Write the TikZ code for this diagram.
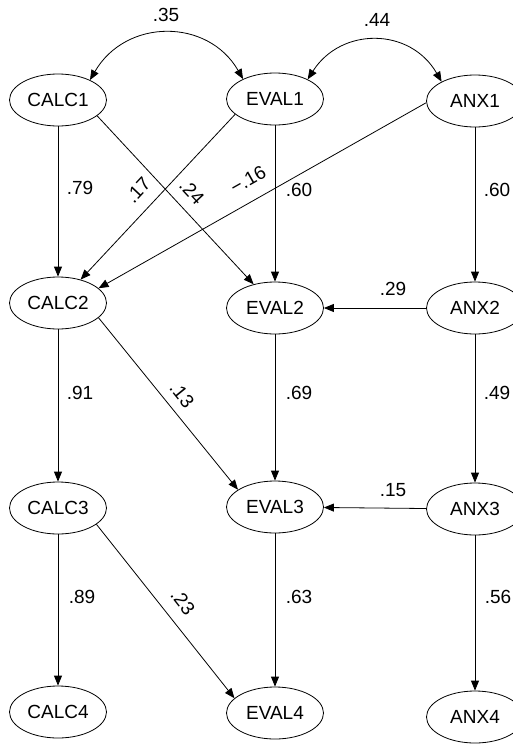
\documentclass[tikz,border=0pt]{standalone}
\usepackage{fontspec}
\setmainfont{Liberation Sans}
\usetikzlibrary{arrows.meta,shapes.geometric}
\begin{document}
\begin{tikzpicture}[x=1pt,y=-1pt,
  var/.style={draw, ellipse, minimum width=97pt, minimum height=52pt, inner sep=0pt, font=\fontsize{19}{22}\selectfont, line width=0.8pt},
  arr/.style={-{Triangle[length=10pt,width=8pt]}, line width=0.8pt},
  cov/.style={{Triangle[length=10pt,width=8pt]}-{Triangle[length=10pt,width=8pt]}, line width=0.8pt},
  lab/.style={font=\fontsize{19}{22}\selectfont, inner sep=0pt}]
\useasboundingbox (0,0) rectangle (513,745);
% nodes
\node[var] (CALC1) at (58,100) {CALC1};
\node[var] (EVAL1) at (275,99) {EVAL1};
\node[var] (ANX1) at (475,101) {ANX1};
\node[var] (CALC2) at (58,303) {CALC2};
\node[var] (EVAL2) at (275,308) {EVAL2};
\node[var] (ANX2) at (475,308) {ANX2};
\node[var] (CALC3) at (58,508) {CALC3};
\node[var] (EVAL3) at (275,507) {EVAL3};
\node[var] (ANX3) at (475,509) {ANX3};
\node[var] (CALC4) at (58,712) {CALC4};
\node[var] (EVAL4) at (275,713) {EVAL4};
\node[var] (ANX4) at (475,717) {ANX4};
% covariances
\draw[cov] (CALC1.32) .. controls (126,18) and (208,18) .. (EVAL1.148);
\draw[cov] (EVAL1.31) .. controls (341,27) and (410,27) .. (ANX1.150);
% paths
\draw[arr] (CALC1) -- (CALC2);
\draw[arr] (CALC1.-22) -- (EVAL2.132);
\draw[arr] (EVAL1.-159) -- (CALC2.46);
\draw[arr] (ANX1.182) -- (CALC2.20);
\draw[arr] (EVAL1) -- (EVAL2);
\draw[arr] (ANX1) -- (ANX2);
\draw[arr] (ANX2) -- (EVAL2);
\draw[arr] (CALC2) -- (CALC3);
\draw[arr] (CALC2.-20) -- (EVAL3.155);
\draw[arr] (EVAL2) -- (EVAL3);
\draw[arr] (ANX2) -- (ANX3);
\draw[arr] (ANX3) -- (EVAL3);
\draw[arr] (CALC3) -- (CALC4);
\draw[arr] (CALC3.-23) -- (EVAL4.160);
\draw[arr] (EVAL3) -- (EVAL4);
\draw[arr] (ANX3) -- (ANX4);
% labels
\node[lab] (l35) at (166,15) {.35};
\node[lab] (l44) at (377,20) {.44};
\node[lab] (l79) at (80,188) {.79};
\node[lab,rotate=47] (l17) at (138,190) {.17};
\node[lab,rotate=-47] (l24) at (192,192) {.24};
\node[lab,rotate=29.5] (l16) at (248,180) {−.16};
\node[lab] (l60a) at (299,190) {.60};
\node[lab] (l60b) at (497,190) {.60};
\node[lab] (l29) at (393,289) {.29};
\node[lab] (l91) at (80,393) {.91};
\node[lab,rotate=-51] (l13) at (182,395) {.13};
\node[lab] (l69) at (299,393) {.69};
\node[lab] (l49) at (497,393) {.49};
\node[lab] (l15) at (393,490) {.15};
\node[lab] (l89) at (82,597) {.89};
\node[lab,rotate=-52] (l23) at (183,602) {.23};
\node[lab] (l63) at (299,597) {.63};
\node[lab] (l56) at (498,597) {.56};
\end{tikzpicture}
\end{document}
